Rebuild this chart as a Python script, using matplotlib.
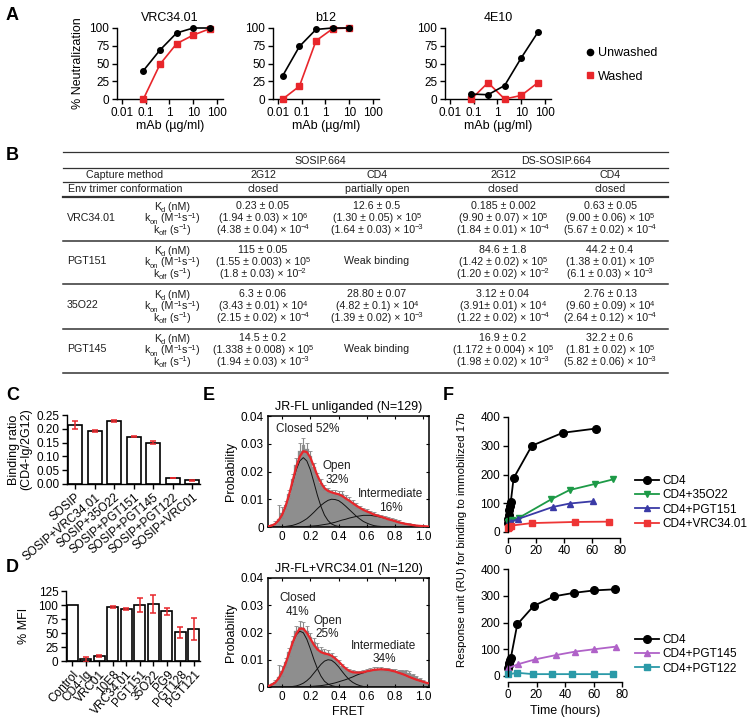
import numpy as np
import matplotlib
matplotlib.use("Agg")
import matplotlib.pyplot as plt
from matplotlib.lines import Line2D
from matplotlib import font_manager

W, H = 750, 722

# ---------------------------------------------------------------------------
# DATA
# ---------------------------------------------------------------------------
# A: neutralization
A_TITLES = ["VRC34.01", "b12", "4E10"]
A_DOSE = [[0.08, 0.4, 2, 10, 50], [0.016, 0.08, 0.4, 2, 10], [0.08, 0.4, 2, 10, 50]]
A_UNWASHED = [[40, 69, 93, 100, 100], [33, 74, 98, 100, 100], [7, 6, 19, 58, 94]]
A_WASHED = [[0, 49, 78, 90, 99], [0, 18, 82, 99, 100], [0, 23, 0, 5, 23]]

# B: SPR table
B_GROUPS = ["SOSIP.664", "DS-SOSIP.664"]
B_CAPTURE = ["2G12", "CD4", "2G12", "CD4"]
B_CONFORMATION = ["closed", "partially open", "closed", "closed"]
B_ANTIBODIES = ["VRC34.01", "PGT151", "35O22", "PGT145"]
B_KD = [
    ["0.23 ± 0.05", "12.6 ± 0.5", "0.185 ± 0.002", "0.63 ± 0.05"],
    ["115 ± 0.05", None, "84.6 ± 1.8", "44.2 ± 0.4"],
    ["6.3 ± 0.06", "28.80 ± 0.07", "3.12 ± 0.04", "2.76 ± 0.13"],
    ["14.5 ± 0.2", None, "16.9 ± 0.2", "32.2 ± 0.6"],
]
B_KON = [
    [("1.94 ± 0.03", 6), ("1.30 ± 0.05", 5), ("9.90 ± 0.07", 5), ("9.00 ± 0.06", 5)],
    [("1.55 ± 0.003", 5), None, ("1.42 ± 0.02", 5), ("1.38 ± 0.01", 5)],
    [("3.43 ± 0.01", 4), ("4.82 ± 0.1", 4), ("3.91± 0.01", 4), ("9.60 ± 0.09", 4)],
    [("1.338 ± 0.008", 5), None, ("1.172 ± 0.004", 5), ("1.81 ± 0.02", 5)],
]
B_KOFF = [
    [("4.38 ± 0.04", -4), ("1.64 ± 0.03", -3), ("1.84 ± 0.01", -4), ("5.67 ± 0.02", -4)],
    [("1.8 ± 0.03", -2), None, ("1.20 ± 0.02", -2), ("6.1 ± 0.03", -3)],
    [("2.15 ± 0.02", -4), ("1.39 ± 0.02", -3), ("1.22 ± 0.02", -4), ("2.64 ± 0.12", -4)],
    [("1.94 ± 0.03", -3), None, ("1.98 ± 0.02", -3), ("5.82 ± 0.06", -3)],
]

# C: binding ratio
C_LABELS = ["SOSIP", "SOSIP+VRC34.01", "SOSIP+35O22", "SOSIP+PGT151",
            "SOSIP+PGT145", "SOSIP+PGT122", "SOSIP+VRC01"]
C_RATIO = [0.215, 0.193, 0.228, 0.172, 0.150, 0.021, 0.013]
C_ERR = [0.014, 0.004, 0.003, 0.003, 0.004, 0.001, 0.003]

# D: % MFI
D_LABELS = ["Control", "CD4-Ig", "VRC01", "10E8", "VRC34.01", "PGT151",
            "35O22", "PG9", "PGT128", "PGT121"]
D_MFI = [100, 3, 9, 96, 93, 100, 101, 89, 51, 57]
D_ERR = [0, 4, 1, 2, 2, 12, 16, 6, 10, 20]

# E: smFRET histograms (bin width 0.025 starting at -0.1)
E_BIN_START, E_BIN_WIDTH, E_NBINS = -0.1, 0.025, 47
E_TITLES = ["JR-FL unliganded (N=129)", "JR-FL+VRC34.01 (N=120)"]
E_HIST_TOP = [0.0003, 0.0006, 0.0012, 0.0030, 0.0052, 0.0080, 0.0120, 0.0172, 0.0225, 0.0275,
              0.0295, 0.0280, 0.0255, 0.0215, 0.0182, 0.0160, 0.0142, 0.0132, 0.0125, 0.0122,
              0.0120, 0.0118, 0.0108, 0.0098, 0.0088, 0.0078, 0.0070, 0.0063, 0.0058, 0.0052,
              0.0047, 0.0042, 0.0040, 0.0035, 0.0031, 0.0027, 0.0024, 0.0020, 0.0016, 0.0013,
              0.0010, 0.0008, 0.0006, 0.0004, 0.0003, 0.0002, 0.0001]
E_ERR_TOP = [0.0002, 0.0004, 0.0008, 0.0050, 0.0020, 0.0015, 0.0015, 0.0018, 0.0022, 0.0028,
             0.0025, 0.0022, 0.0018, 0.0015, 0.0012, 0.0012, 0.0010, 0.0010, 0.0010, 0.0010,
             0.0010, 0.0010, 0.0009, 0.0009, 0.0008, 0.0008, 0.0007, 0.0007, 0.0006, 0.0006,
             0.0006, 0.0005, 0.0005, 0.0005, 0.0005, 0.0004, 0.0004, 0.0004, 0.0003, 0.0003,
             0.0003, 0.0002, 0.0002, 0.0002, 0.0001, 0.0001, 0.0001]
E_CLOSED_TOP = [0.0002, 0.0005, 0.0011, 0.0023, 0.0043, 0.0074, 0.0114, 0.0161, 0.0206, 0.0238,
                0.0250, 0.0238, 0.0206, 0.0161, 0.0114, 0.0074, 0.0043, 0.0023, 0.0011, 0.0005,
                0.0002, 0.0001] + [0] * 25
E_OPEN_TOP = [0, 0, 0, 0.0001, 0.0001, 0.0002, 0.0004, 0.0006, 0.0010, 0.0015,
              0.0022, 0.0030, 0.0041, 0.0053, 0.0066, 0.0078, 0.0088, 0.0096, 0.0100, 0.0099,
              0.0095, 0.0086, 0.0075, 0.0063, 0.0051, 0.0039, 0.0029, 0.0020, 0.0014, 0.0009,
              0.0005, 0.0003, 0.0002, 0.0001] + [0] * 13
E_INTER_TOP = [0, 0, 0, 0, 0, 0, 0, 0, 0.0001, 0.0001,
               0.0001, 0.0002, 0.0003, 0.0004, 0.0005, 0.0007, 0.0009, 0.0011, 0.0014, 0.0017,
               0.0021, 0.0025, 0.0028, 0.0032, 0.0035, 0.0038, 0.0040, 0.0042, 0.0042, 0.0042,
               0.0040, 0.0038, 0.0035, 0.0032, 0.0028, 0.0025, 0.0021, 0.0017, 0.0014, 0.0011,
               0.0009, 0.0007, 0.0005, 0.0004, 0.0003, 0.0002, 0.0001]

E_HIST_BOT = [0.0004, 0.0009, 0.0018, 0.0035, 0.0058, 0.0090, 0.0128, 0.0170, 0.0205, 0.0222,
              0.0218, 0.0205, 0.0185, 0.0165, 0.0148, 0.0135, 0.0128, 0.0124, 0.0116, 0.0104,
              0.0092, 0.0078, 0.0066, 0.0058, 0.0054, 0.0053, 0.0054, 0.0056, 0.0060, 0.0063,
              0.0066, 0.0067, 0.0066, 0.0064, 0.0062, 0.0060, 0.0060, 0.0058, 0.0058, 0.0057,
              0.0052, 0.0044, 0.0036, 0.0028, 0.0020, 0.0015, 0.0011]
E_ERR_BOT = [0.0002, 0.0004, 0.0008, 0.0045, 0.0018, 0.0015, 0.0015, 0.0016, 0.0018, 0.0022,
             0.0020, 0.0018, 0.0015, 0.0013, 0.0012, 0.0011, 0.0010, 0.0010, 0.0009, 0.0009,
             0.0008, 0.0008, 0.0007, 0.0007, 0.0007, 0.0006, 0.0006, 0.0006, 0.0006, 0.0006,
             0.0006, 0.0006, 0.0006, 0.0006, 0.0006, 0.0006, 0.0006, 0.0006, 0.0006, 0.0006,
             0.0006, 0.0005, 0.0005, 0.0004, 0.0004, 0.0003, 0.0003]
E_CLOSED_BOT = [0.0003, 0.0008, 0.0016, 0.0031, 0.0055, 0.0087, 0.0124, 0.0162, 0.0191, 0.0205,
                0.0199, 0.0175, 0.0140, 0.0101, 0.0067, 0.0040, 0.0021, 0.0011, 0.0005, 0.0002,
                0.0001] + [0] * 26
E_OPEN_BOT = [0, 0, 0, 0, 0, 0, 0.0001, 0.0002, 0.0004, 0.0008,
              0.0014, 0.0023, 0.0035, 0.0051, 0.0067, 0.0083, 0.0095, 0.0100, 0.0098, 0.0088,
              0.0074, 0.0057, 0.0041, 0.0027, 0.0017, 0.0010, 0.0005, 0.0002, 0.0001] + [0] * 18
E_INTER_BOT = [0, 0, 0, 0, 0, 0, 0, 0, 0, 0.0001,
               0.0001, 0.0001, 0.0002, 0.0003, 0.0004, 0.0005, 0.0007, 0.0009, 0.0012, 0.0015,
               0.0019, 0.0023, 0.0027, 0.0032, 0.0037, 0.0043, 0.0048, 0.0052, 0.0057, 0.0060,
               0.0063, 0.0064, 0.0065, 0.0064, 0.0063, 0.0060, 0.0057, 0.0052, 0.0048, 0.0043,
               0.0037, 0.0032, 0.0027, 0.0023, 0.0019, 0.0015, 0.0012]
E_STATE_TOP = [("Closed 52%", 0.18, 0.0353), ("Open\n32%", 0.39, 0.0195), ("Intermediate\n16%", 0.77, 0.0094)]
E_STATE_BOT = [("Closed\n41%", 0.11, 0.0301), ("Open\n25%", 0.32, 0.0218), ("Intermediate\n34%", 0.72, 0.0127)]

# F: 17b binding kinetics
F_TOP = [
    ("CD4", [0, 0.25, 0.5, 1, 1.5, 2, 4, 17, 39, 63], [30, 45, 60, 75, 90, 105, 187, 300, 345, 360]),
    ("CD4+35O22", [0, 1, 3, 8, 31, 44, 62, 75], [35, 40, 43, 50, 114, 146, 167, 183]),
    ("CD4+PGT151", [0, 2, 7, 32, 44, 61], [29, 35, 45, 87, 99, 107]),
    ("CD4+VRC34.01", [0, 1, 2, 17, 48, 72], [14, 18, 22, 31, 35, 36]),
]
F_BOT = [
    ("CD4", [0, 0.5, 1, 1.5, 2, 6.5, 18, 32.5, 46.5, 60.5, 75],
     [30, 40, 50, 60, 68, 193, 262, 298, 311, 320, 324]),
    ("CD4+PGT145", [0, 7, 19, 33.5, 47, 60.5, 76], [29, 44, 62, 78, 91, 100, 110]),
    ("CD4+PGT122", [0, 6.5, 17.5, 31, 45, 60, 74], [6, 12, 7, 7, 7, 7, 7]),
]
F_STYLE = {
    "CD4": ("black", "o", 5.5),
    "CD4+35O22": ("#1d9a47", "v", 5),
    "CD4+PGT151": ("#3a3aa6", "^", 5),
    "CD4+VRC34.01": ("#ee3535", "s", 5),
    "CD4+PGT145": ("#b062c8", "^", 5),
    "CD4+PGT122": ("#2b9aa8", "s", 5),
}

# ---------------------------------------------------------------------------
# STYLE
# ---------------------------------------------------------------------------
installed = {f.name for f in font_manager.fontManager.ttflist}
BASE = "Liberation Sans" if "Liberation Sans" in installed else "DejaVu Sans"
NARROW = "Liberation Sans Narrow" if "Liberation Sans Narrow" in installed else BASE
plt.rcParams["font.family"] = BASE
plt.rcParams["axes.linewidth"] = 1.0
plt.rcParams["font.size"] = 8.5

RED = "#e8262b"
TXT = "#1e1e1e"
TSIZE = 7.7  # table font size

fig = plt.figure(figsize=(W / 100, H / 100), dpi=100)
renderer = fig.canvas.get_renderer()


def px_axes(x0, y_top, x1, y_bot):
    return fig.add_axes([x0 / W, 1 - y_bot / H, (x1 - x0) / W, (y_bot - y_top) / H])


def px_text(x, y, s, **kw):
    fig.text(x / W, 1 - y / H, s, **kw)


def px_hline(x0, x1, y, lw=0.9):
    fig.add_artist(Line2D([x0 / W, x1 / W], [1 - y / H, 1 - y / H],
                          transform=fig.transFigure, color="#333333", lw=lw))


def px_rich(x, y, pieces, ha="center"):
    # pieces: (text, relative size, raise in px); laid out left to right
    parts = []
    for s, rel, dy in pieces:
        t = fig.text(0, 0, s, fontsize=TSIZE * rel, color=TXT, ha="left", va="baseline")
        parts.append((t, dy, t.get_window_extent(renderer).width))
    total = sum(p[2] for p in parts)
    cur = x - total / 2 if ha == "center" else x
    base = y + TSIZE * 100 / 72 * 0.36
    for t, dy, w in parts:
        t.set_position((cur / W, 1 - (base - dy) / H))
        cur += w


def prism(ax):
    ax.spines["top"].set_visible(False)
    ax.spines["right"].set_visible(False)
    ax.tick_params(direction="out", length=3.5, width=1, labelsize=8.5, pad=2)
    ax.tick_params(which="minor", length=2, width=0.8)


def panel_label(x, y, s):
    px_text(x, y, s, fontsize=13, fontweight="bold", family=NARROW, va="center")


# ---------------------------------------------------------------------------
# A
# ---------------------------------------------------------------------------
panel_label(6, 15, "A")
a_lefts = [117, 273, 445]
for i, left in enumerate(a_lefts):
    ax = px_axes(left, 28, left + 106, 99)
    prism(ax)
    ax.set_xscale("log")
    ax.set_xlim(0.0062, 178)
    ax.set_ylim(0, 100)
    ax.set_xticks([0.01, 0.1, 1, 10, 100])
    ax.set_xticklabels(["0.01", "0.1", "1", "10", "100"])
    ax.set_yticks([0, 25, 50, 75, 100])
    ax.plot(A_DOSE[i], A_UNWASHED[i], "-o", color="black", ms=4, lw=1.2, clip_on=False, zorder=4)
    ax.plot(A_DOSE[i], A_WASHED[i], "-s", color=RED, ms=3.8, lw=1.2, clip_on=False, zorder=3)
    ax.set_title(A_TITLES[i], fontsize=9, pad=5)
    ax.set_xlabel("mAb (µg/ml)", fontsize=9, labelpad=1)
    if i == 0:
        ax.set_ylabel("% Neutralization", fontsize=9, labelpad=4)

a_handles = [Line2D([], [], ls="none", marker="o", color="black", ms=4.5, label="Unwashed"),
             Line2D([], [], ls="none", marker="s", color=RED, ms=4.5, label="Washed")]
fig.legend(handles=a_handles, loc="center left", bbox_to_anchor=(577 / W, 1 - 65 / H),
           frameon=False, fontsize=9, handletextpad=0.2, labelspacing=0.9, handlelength=1.0,
           borderpad=0)

# ---------------------------------------------------------------------------
# B (table)
# ---------------------------------------------------------------------------
panel_label(6, 155, "B")
TX0, TX1 = 63, 668
COL_X = [263, 377, 503, 610]
GROUP_X = [320, 556]
LABEL_X, PARAM_X, AB_X = 125, 172, 67
tkw = dict(fontsize=TSIZE, color=TXT, ha="center", va="center")

px_hline(TX0, TX1, 152)
for gx, g in zip(GROUP_X, B_GROUPS):
    px_text(gx, 160.5, g, **tkw)
px_hline(TX0, TX1, 168)
px_text(LABEL_X, 175.5, "Capture method", **tkw)
for cx, s in zip(COL_X, B_CAPTURE):
    px_text(cx, 175.5, s, **tkw)
px_hline(TX0, TX1, 182)
px_text(LABEL_X, 189.5, "Env trimer conformation", **tkw)
for cx, s in zip(COL_X, B_CONFORMATION):
    px_text(cx, 189.5, s, **tkw)
px_hline(TX0, TX1, 196.5, lw=1.6)

SUB, SUP = -2.2, 3.6
param_pieces = [
    [("K", 1, 0), ("d", 0.7, SUB), (" (nM)", 1, 0)],
    [("k", 1, 0), ("on", 0.7, SUB), (" (M", 1, 0), ("\u22121", 0.7, SUP), ("s", 1, 0),
     ("\u22121", 0.7, SUP), (")", 1, 0)],
    [("k", 1, 0), ("off", 0.7, SUB), (" (s", 1, 0), ("\u22121", 0.7, SUP), (")", 1, 0)],
]


def sci(entry):
    mant, exp = entry
    return [("(" + mant + ") × 10", 1, 0), (str(exp).replace("-", "\u2212"), 0.7, SUP)]


for b, ab in enumerate(B_ANTIBODIES):
    top = 196.5 + 44 * b
    rows_y = [top + 9.5, top + 21, top + 32.5]
    px_text(AB_X, rows_y[1], ab, fontsize=TSIZE, color=TXT, ha="left", va="center")
    for ry, pl in zip(rows_y, param_pieces):
        px_rich(PARAM_X, ry, pl)
    for c, cx in enumerate(COL_X):
        if B_KD[b][c] is None:
            px_text(cx, rows_y[1], "Weak binding", **tkw)
            continue
        px_text(cx, rows_y[0], B_KD[b][c], **tkw)
        px_rich(cx, rows_y[1], sci(B_KON[b][c]))
        px_rich(cx, rows_y[2], sci(B_KOFF[b][c]))
    px_hline(TX0, TX1, top + 44, lw=1.1)

# ---------------------------------------------------------------------------
# C
# ---------------------------------------------------------------------------
panel_label(6, 395, "C")
axc = px_axes(67, 415, 200, 484)
prism(axc)
xc = np.arange(len(C_LABELS))
axc.bar(xc, C_RATIO, width=0.72, color="white", edgecolor="black", lw=1.2, zorder=2)
axc.errorbar(xc, C_RATIO, yerr=C_ERR, fmt="none", ecolor=RED, elinewidth=1.1,
             capsize=2.5, capthick=1.1, zorder=3)
axc.set_xlim(-0.42, len(C_LABELS) - 0.6)
axc.set_ylim(0, 0.25)
axc.set_yticks([0, 0.05, 0.10, 0.15, 0.20, 0.25])
axc.set_yticklabels(["0.00", "0.05", "0.10", "0.15", "0.20", "0.25"])
axc.set_xticks(xc)
axc.set_xticklabels(C_LABELS, rotation=40, ha="right", rotation_mode="anchor", fontsize=8.5)
axc.set_ylabel("Binding ratio\n(CD4-Ig/2G12)", fontsize=9, labelpad=3, linespacing=1.0)

# ---------------------------------------------------------------------------
# D
# ---------------------------------------------------------------------------
panel_label(6, 568, "D")
axd = px_axes(66, 591, 200, 661)
prism(axd)
xd = np.arange(len(D_LABELS))
axd.bar(xd, D_MFI, width=0.8, color="white", edgecolor="black", lw=1.2, zorder=2)
d_idx = [i for i, e in enumerate(D_ERR) if e > 0]
axd.errorbar([xd[i] for i in d_idx], [D_MFI[i] for i in d_idx], yerr=[D_ERR[i] for i in d_idx],
             fmt="none", ecolor=RED, elinewidth=1.1, capsize=2.5, capthick=1.1, zorder=3)
axd.set_xlim(-0.45, len(D_LABELS) - 0.55)
axd.set_ylim(0, 125)
axd.set_yticks([0, 25, 50, 75, 100, 125])
axd.set_xticks(xd)
axd.set_xticklabels(D_LABELS, rotation=48, ha="right", rotation_mode="anchor", fontsize=8.5)
axd.set_ylabel("% MFI", fontsize=9, labelpad=6)

# ---------------------------------------------------------------------------
# E
# ---------------------------------------------------------------------------
panel_label(203, 395, "E")
e_x = E_BIN_START + E_BIN_WIDTH * np.arange(E_NBINS)
e_sets = [
    (416, 527, E_TITLES[0], E_HIST_TOP, E_ERR_TOP, [E_CLOSED_TOP, E_OPEN_TOP, E_INTER_TOP], E_STATE_TOP),
    (578, 687, E_TITLES[1], E_HIST_BOT, E_ERR_BOT, [E_CLOSED_BOT, E_OPEN_BOT, E_INTER_BOT], E_STATE_BOT),
]
for k, (yt, yb, title, hist, err, comps, states) in enumerate(e_sets):
    ax = px_axes(268, yt, 429, yb)
    ax.bar(e_x, hist, width=E_BIN_WIDTH, color="#8e8e8e", edgecolor="#8e8e8e", lw=0.2, zorder=1)
    ax.errorbar(e_x, hist, yerr=err, fmt="none", ecolor="#8a8a8a", elinewidth=0.8,
                capsize=1.2, capthick=0.6, zorder=2)
    for comp in comps:
        ax.plot(e_x, comp, color="#111111", lw=0.7, zorder=3)
    total = np.sum(np.array(comps), axis=0)
    ax.plot(e_x, total, color=RED, lw=1.6, zorder=4)
    for s, tx, ty in states:
        ax.text(tx, ty, s, ha="center", va="center", fontsize=8.5, linespacing=1.15, color=TXT)
    ax.set_xlim(-0.1, 1.04)
    ax.set_ylim(0, 0.04)
    ax.set_xticks([0, 0.2, 0.4, 0.6, 0.8, 1.0])
    ax.set_xticklabels(["0", "0.2", "0.4", "0.6", "0.8", "1.0"])
    ax.set_yticks([0, 0.01, 0.02, 0.03, 0.04])
    ax.set_yticklabels(["0", "0.01", "0.02", "0.03", "0.04"])
    ax.tick_params(direction="in", length=2, top=True, right=True, labelsize=8.5, pad=3)
    for sp in ax.spines.values():
        sp.set_linewidth(1.1)
    ax.set_title(title, fontsize=9, pad=4)
    ax.set_ylabel("Probability", fontsize=9, labelpad=3)
    if k == 1:
        ax.set_xlabel("FRET", fontsize=9, labelpad=2)

# ---------------------------------------------------------------------------
# F
# ---------------------------------------------------------------------------
panel_label(443, 395, "F")
f_sets = [(508, 417, 620, 532, F_TOP, 469, False),
          (508, 569, 622, 676, F_BOT, 628, True)]
for x0, yt, x1, yb, series, leg_y, bottom in f_sets:
    ax = px_axes(x0, yt, x1, yb)
    prism(ax)
    ax.spines["bottom"].set_position(("outward", 4))
    handles = []
    for name, t, ru in series:
        col, mk, ms = F_STYLE[name]
        h, = ax.plot(t, ru, "-", marker=mk, color=col, ms=ms, lw=1.3, clip_on=False,
                     label=name)
        handles.append(h)
    ax.set_xlim(0, 80)
    ax.set_ylim(0, 400)
    ax.set_xticks([0, 20, 40, 60, 80])
    ax.set_yticks([0, 100, 200, 300, 400])
    if bottom:
        ax.set_xlabel("Time (hours)", fontsize=9, labelpad=3)
    fig.legend(handles=handles, loc="upper left", bbox_to_anchor=(629 / W, 1 - leg_y / H),
               frameon=False, fontsize=8.5, handlelength=2.0, handletextpad=0.3,
               labelspacing=0.2, borderpad=0)

px_text(462, 540, "Response unit (RU) for binding to immobilized 17b", rotation=90,
        ha="center", va="center", fontsize=8.2)

fig.savefig("out.png", dpi=100)
